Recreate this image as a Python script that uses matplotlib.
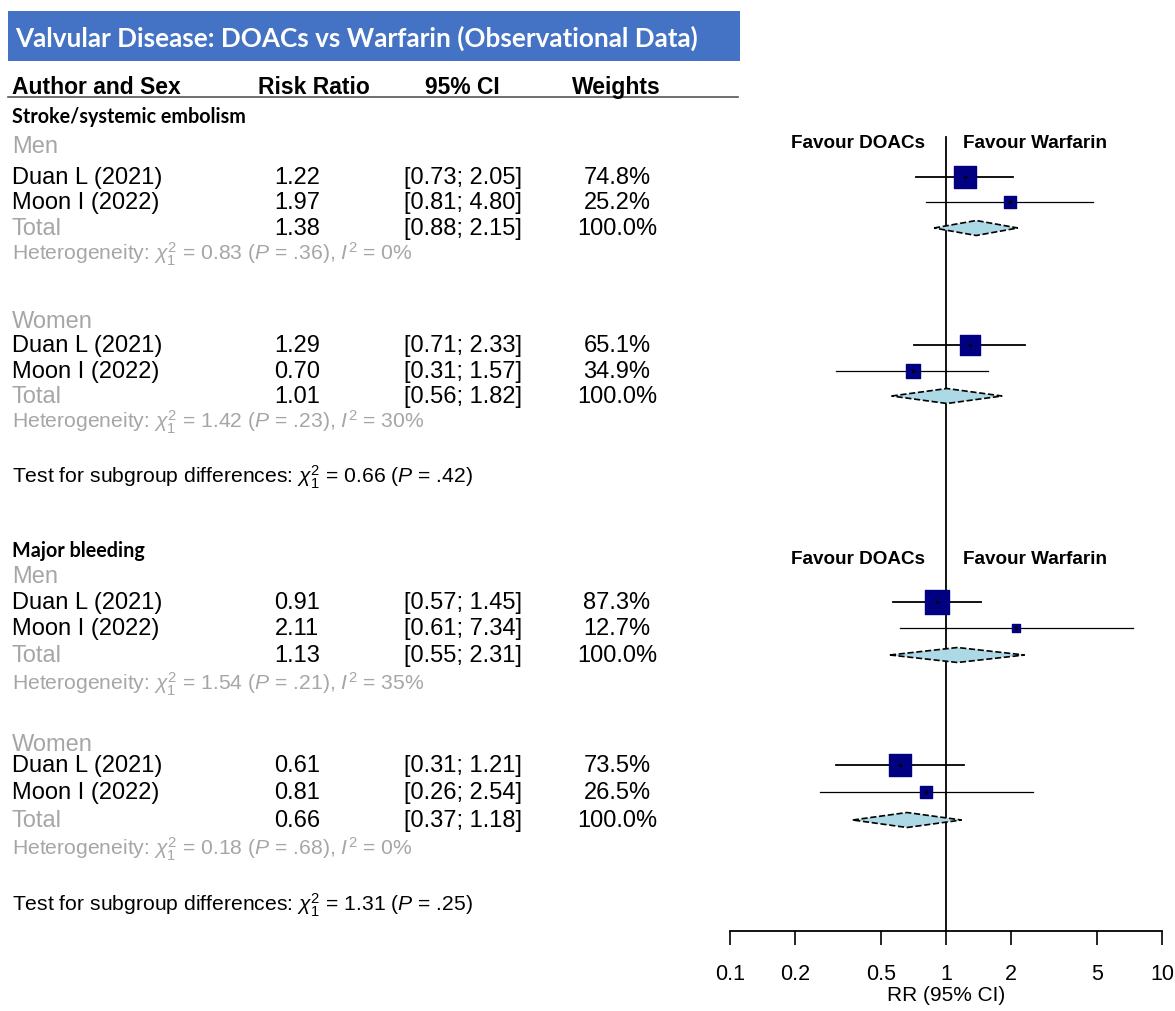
import matplotlib
matplotlib.use("Agg")
import matplotlib.pyplot as plt
from matplotlib.patches import Rectangle, Polygon

plt.rcParams['font.family'] = ['Liberation Sans', 'DejaVu Sans']
plt.rcParams['mathtext.fontset'] = 'custom'
plt.rcParams['mathtext.rm'] = 'Liberation Sans'
plt.rcParams['mathtext.it'] = 'Liberation Sans:italic'
plt.rcParams['mathtext.bf'] = 'Liberation Sans:bold'

title = "Valvular Disease: DOACs vs Warfarin (Observational Data)"
columns = ["Author and Sex", "Risk Ratio", "95% CI", "Weights"]
outcomes = ["Stroke/systemic embolism", "Major bleeding"]
sexes = ["Men", "Women"]
studies = ["Duan L (2021)", "Moon I (2022)"]

# [outcome][sex][study]
rr = [[[1.22, 1.97], [1.29, 0.70]], [[0.91, 2.11], [0.61, 0.81]]]
ci_lo = [[[0.73, 0.81], [0.71, 0.31]], [[0.57, 0.61], [0.31, 0.26]]]
ci_hi = [[[2.05, 4.80], [2.33, 1.57]], [[1.45, 7.34], [1.21, 2.54]]]
weights = [[[74.8, 25.2], [65.1, 34.9]], [[87.3, 12.7], [73.5, 26.5]]]

# [outcome][sex]
total_rr = [[1.38, 1.01], [1.13, 0.66]]
total_lo = [[0.88, 0.56], [0.55, 0.37]]
total_hi = [[2.15, 1.82], [2.31, 1.18]]
het_chi2 = [["0.83", "1.42"], ["1.54", "0.18"]]
het_p = [[".36", ".23"], [".21", ".68"]]
het_i2 = [["0%", "30%"], ["35%", "0%"]]

test_chi2 = ["0.66", "1.31"]
test_p = [".42", ".25"]

ticks = [0.1, 0.2, 0.5, 1, 2, 5, 10]
tick_labels = ["0.1", "0.2", "0.5", "1", "2", "5", "10"]

# row layout in pixels from the top
W, H = 1175, 1012
head_y = [117, 551]
sex_y = [[147, 322], [577, 745]]
study_y = [[[178, 203], [346, 372]], [[603, 629], [766, 793]]]
total_y = [[229, 397], [656, 821]]
het_y = [[254, 422], [684, 849]]
test_y = [477, 905]
favour_y = [143, 560]

grey = '#A6A6A6'
navy = '#000080'

fig = plt.figure(figsize=(W / 100, H / 100), dpi=100)
tax = fig.add_axes([0, 0, 1, 1])
tax.set_xlim(0, W)
tax.set_ylim(H, 0)
tax.axis('off')

# title bar
tax.add_patch(Rectangle((8, 12), 732, 50, color='#4472C4', lw=0))
tax.text(15, 38, title, color='white', fontsize=18.8, fontweight='bold',
         family=['Lato', 'DejaVu Sans'], va='center')

# header
col_x = [12, 258, 425, 572]
for x, c in zip(col_x, columns):
    tax.text(x, 87, c, fontsize=16.5, fontweight='bold', va='center')
tax.plot([8, 738], [98, 98], color='#555555', lw=1.2)

x_name, x_rr, x_ci, x_w = 12, 297, 463, 617
fs = 17
fs_small = 15.2
for o in range(2):
    tax.text(x_name, head_y[o], outcomes[o], fontsize=14.2, fontweight='bold',
             family=['Lato', 'DejaVu Sans'], va='center')
    for s in range(2):
        tax.text(x_name, sex_y[o][s], sexes[s], fontsize=fs, color=grey, va='center')
        for k in range(2):
            y = study_y[o][s][k]
            tax.text(x_name, y, studies[k], fontsize=fs, va='center')
            tax.text(x_rr, y, f"{rr[o][s][k]:.2f}", fontsize=fs, va='center', ha='center')
            tax.text(x_ci, y, f"[{ci_lo[o][s][k]:.2f}; {ci_hi[o][s][k]:.2f}]",
                     fontsize=fs, va='center', ha='center')
            tax.text(x_w, y, f"{weights[o][s][k]:.1f}%", fontsize=fs, va='center', ha='center')
        y = total_y[o][s]
        tax.text(x_name, y, "Total", fontsize=fs, color=grey, va='center')
        tax.text(x_rr, y, f"{total_rr[o][s]:.2f}", fontsize=fs, va='center', ha='center')
        tax.text(x_ci, y, f"[{total_lo[o][s]:.2f}; {total_hi[o][s]:.2f}]",
                 fontsize=fs, va='center', ha='center')
        tax.text(x_w, y, "100.0%", fontsize=fs, va='center', ha='center')
        het = (r"Heterogeneity: $\chi^2_1$ = " + het_chi2[o][s] + r" ($P$ = " + het_p[o][s]
               + r"), $I^2$ = " + het_i2[o][s])
        tax.text(x_name, het_y[o][s], het, fontsize=fs_small, color=grey, va='center')
    tst = (r"Test for subgroup differences: $\chi^2_1$ = " + test_chi2[o]
           + r" ($P$ = " + test_p[o] + ")")
    tax.text(x_name, test_y[o], tst, fontsize=fs_small, va='center')

# forest panel
left, right, top, bottom = 730, 1162, 130, 932
ax = fig.add_axes([left / W, 1 - bottom / H, (right - left) / W, (bottom - top) / H])
ax.set_xscale('log')
ax.set_xlim(0.1, 10)
ax.set_ylim(bottom, top)
ax.patch.set_alpha(0)
for sp in ['top', 'right', 'left']:
    ax.spines[sp].set_visible(False)
ax.spines['bottom'].set_linewidth(1.3)
ax.set_yticks([])
ax.set_xticks(ticks)
ax.set_xticklabels(tick_labels)
ax.minorticks_off()
ax.tick_params(axis='x', direction='out', length=10, width=1.2, labelsize=15.5, pad=13)
ax.set_xlabel("RR (95% CI)", fontsize=15, labelpad=1)

ax.plot([1, 1], [138, bottom], color='black', lw=1.3, zorder=1)

for o in range(2):
    ax.text(0.8, favour_y[o], "Favour DOACs", fontsize=13.6, fontweight='bold',
            ha='right', va='center')
    ax.text(1.2, favour_y[o], "Favour Warfarin", fontsize=13.6, fontweight='bold',
            ha='left', va='center')
    for s in range(2):
        for k in range(2):
            y = study_y[o][s][k]
            ax.plot([ci_lo[o][s][k], ci_hi[o][s][k]], [y, y], color='black',
                    lw=1.3 if k == 0 else 0.9, zorder=2)
            ax.scatter([rr[o][s][k]], [y], s=3.3 * weights[o][s][k], marker='s',
                       color=navy, edgecolor=navy, zorder=3)
            ax.scatter([rr[o][s][k]], [y], s=2, color='black', zorder=4)
        y = total_y[o][s]
        h = 7.5
        diamond = Polygon([(total_lo[o][s], y), (total_rr[o][s], y - h),
                           (total_hi[o][s], y), (total_rr[o][s], y + h)],
                          closed=True, facecolor='#ADD8E6', edgecolor='black',
                          linestyle='--', lw=1.2, zorder=3)
        ax.add_patch(diamond)

fig.savefig("out.png", dpi=100)
